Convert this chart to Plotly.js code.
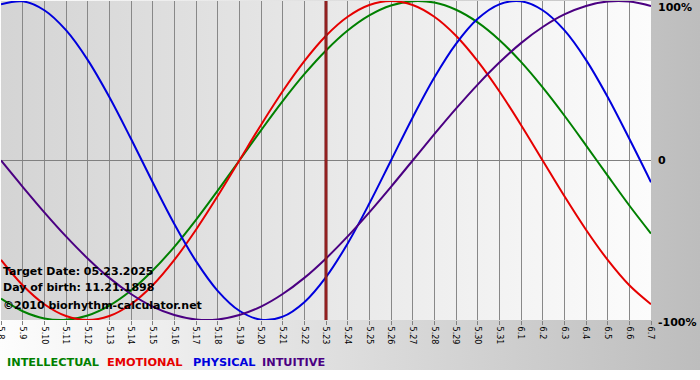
<!DOCTYPE html>
<html>
<head>
<meta charset="utf-8">
<script src="https://cdn.plot.ly/plotly-3.0.1.min.js"></script>
<style>
html,body{margin:0;padding:0;background:#fff;}
#wrap{position:relative;width:700px;height:380px;overflow:hidden;background:#fff;}
#outerbg{position:absolute;left:0;top:0;width:700px;height:370px;background:linear-gradient(to right,#fdfdfd,#bdbdbd);}
#plotbg{position:absolute;left:1px;top:1px;width:650px;height:319px;background:linear-gradient(to right,#d4d4d4,#fcfcfc);}
#chart{position:absolute;left:0;top:0;width:700px;height:380px;}
</style>
</head>
<body>
<div id="wrap">
  <div id="outerbg"></div>
  <div id="plotbg"></div>
  <div id="chart"></div>
</div>
<script>
// Day labels (month.day), 2025
const days = ['5.8','5.9','5.10','5.11','5.12','5.13','5.14','5.15','5.16','5.17','5.18','5.19','5.20','5.21','5.22','5.23','5.24','5.25','5.26','5.27','5.28','5.29','5.30','5.31','6.1','6.2','6.3','6.4','6.5','6.6','6.7'];

// Biorhythm values in percent
const intellectual = [-86.6,-94.5,-99.0,-99.9,-97.2,-91.0,-81.5,-69.0,-54.1,-37.2,-18.9,0,18.9,37.2,54.1,69.0,81.5,91.0,97.2,99.9,99.0,94.5,86.6,75.6,61.8,45.8,28.2,9.5,-9.5,-28.2,-45.8];
const emotional    = [-62.3,-78.2,-90.1,-97.5,-100,-97.5,-90.1,-78.2,-62.3,-43.4,-22.3,0,22.3,43.4,62.3,78.2,90.1,97.5,100,97.5,90.1,78.2,62.3,43.4,22.3,0,-22.3,-43.4,-62.3,-78.2,-90.1];
const physical     = [97.9,99.8,94.2,81.7,63.1,39.8,13.6,-13.6,-39.8,-63.1,-81.7,-94.2,-99.8,-97.9,-88.8,-73.1,-52.0,-27.0,0,27.0,52.0,73.1,88.8,97.9,99.8,94.2,81.7,63.1,39.8,13.6,-13.6];
const intuitive    = [0,-16.5,-32.5,-47.6,-61.4,-73.6,-83.7,-91.6,-96.9,-99.7,-99.7,-96.9,-91.6,-83.7,-73.6,-61.4,-47.6,-32.5,-16.5,0,16.5,32.5,47.6,61.4,73.6,83.7,91.6,96.9,99.7,99.7,96.9];

const seriesNames = ['INTELLECTUAL','EMOTIONAL','PHYSICAL','INTUITIVE'];
const seriesColors = ['#008000','#e60000','#0000dd','#4b0082'];
const seriesData = [intellectual, emotional, physical, intuitive];

const targetDay = '5.23';
const infoLines = ['Target Date: 05.23.2025','Day of birth: 11.21.1898','©2010 biorhythm-calculator.net'];
const yTickVals = [100, 0, -100];
const yTickText = ['100%', '0', '-100%'];

const traces = seriesData.map((vals, i) => ({
  x: days, y: vals, type: 'scatter', mode: 'lines', name: seriesNames[i],
  line: {color: seriesColors[i], width: 2, shape: 'spline', smoothing: 1},
  hoverinfo: 'skip'
}));

const F = 'DejaVu Sans, Verdana, sans-serif';
const annotations = [];
// right axis labels
const yLabelPaper = [0.981, null, -0.008];
yTickText.forEach((t, i) => {
  annotations.push({
    text: '<b>' + t + '</b>', showarrow: false,
    xref: 'paper', x: 1, xanchor: 'left', xshift: 5,
    yref: yLabelPaper[i] === null ? 'y' : 'paper',
    y: yLabelPaper[i] === null ? yTickVals[i] : yLabelPaper[i],
    yanchor: 'middle',
    font: {family: F, size: 11, color: '#000'}
  });
});
// info text
const infoY = [0.1505, 0.1034, 0.0439];
infoLines.forEach((t, i) => {
  annotations.push({
    text: '<b>' + t + '</b>', showarrow: false,
    xref: 'paper', x: 0, xanchor: 'left', xshift: 0,
    yref: 'paper', y: infoY[i], yanchor: 'middle',
    font: {family: F, size: 11, color: '#000'}
  });
});
// legend labels
const legX = [0.0062, 0.160, 0.292, 0.3985];
seriesNames.forEach((t, i) => {
  annotations.push({
    text: '<b>' + t + '</b>', showarrow: false,
    xref: 'paper', x: legX[i], xanchor: 'left',
    yref: 'paper', y: -0.1317, yanchor: 'middle',
    font: {family: F, size: 11.3, color: seriesColors[i]}
  });
});

const targetIdx = days.indexOf(targetDay);

const layout = {
  width: 700, height: 380,
  margin: {l: 1, r: 49, t: 1, b: 60, pad: 0},
  paper_bgcolor: 'rgba(0,0,0,0)',
  plot_bgcolor: 'rgba(0,0,0,0)',
  showlegend: false,
  xaxis: {
    type: 'category', range: [0, days.length - 1],
    tickmode: 'linear', tick0: 0, dtick: 1,
    tickangle: 90, ticks: 'outside', ticklen: 4, tickcolor: '#808080', tickwidth: 1,
    showgrid: true, gridcolor: '#888888', gridwidth: 1,
    showline: false, zeroline: false,
    tickfont: {family: F, size: 8, color: '#000'},
    fixedrange: true
  },
  yaxis: {
    range: [-100, 100], showticklabels: false, ticks: '',
    showgrid: false, zeroline: true, zerolinecolor: '#808080', zerolinewidth: 1,
    showline: false, fixedrange: true
  },
  shapes: [
    {type: 'line', xref: 'x', x0: targetIdx, x1: targetIdx, yref: 'paper', y0: 0, y1: 1,
     line: {color: '#6e0f0f', width: 3}, layer: 'above'},
    {type: 'line', xref: 'x', x0: targetIdx, x1: targetIdx, yref: 'paper', y0: 0, y1: 1,
     line: {color: '#b83232', width: 1}, layer: 'above'}
  ],
  annotations: annotations
};

Plotly.newPlot('chart', traces, layout, {displayModeBar: false, staticPlot: true});
</script>
</body>
</html>
